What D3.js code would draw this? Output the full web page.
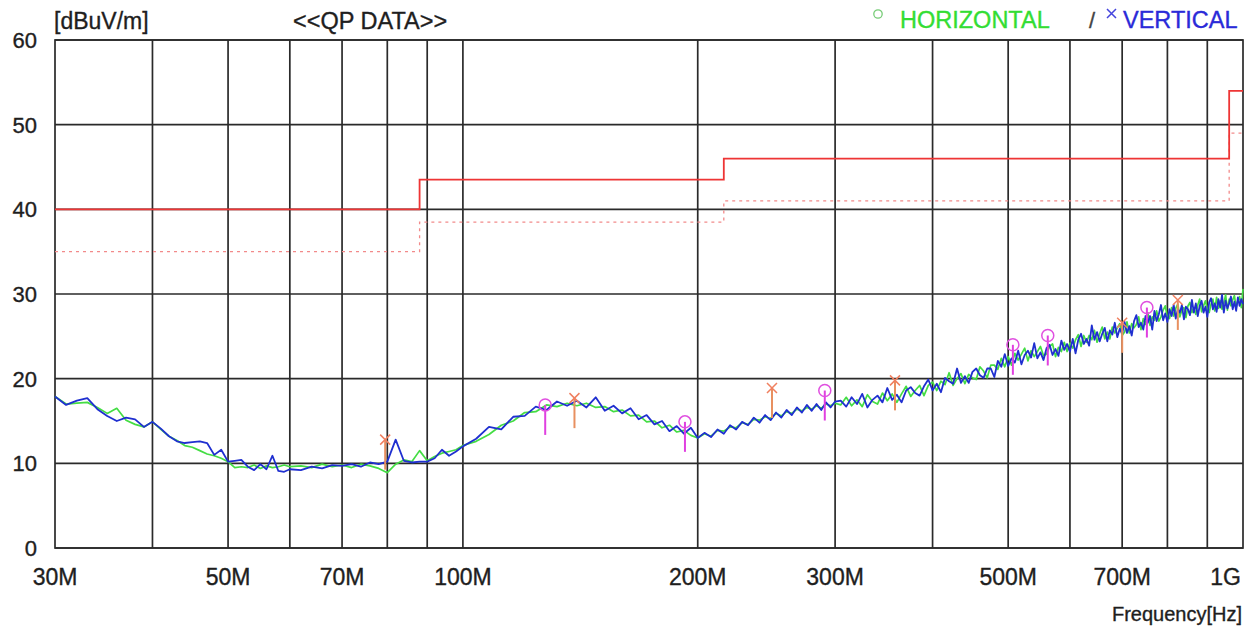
<!DOCTYPE html>
<html><head><meta charset="utf-8">
<script src="https://cdn.jsdelivr.net/npm/d3@7"></script>
<style>
html,body{margin:0;padding:0;background:#fff;}
svg{display:block;font-family:"Liberation Sans",Arial,sans-serif;}
</style></head>
<body><svg id="c" width="1255" height="632"></svg>
<script>
// ---- data ----
const freqs = [30,31,32,33,34,35,36,37,38,39,40,41,42,43,44,45,46,47,48,49,50,51,52,53,54,55,56,57,58,59,60,
62,64,66,68,70,72,74,76,78,80,82,84,86,88,90,92,94,96,98,100,
104,108,112,116,120,124,128,132,136,140,144,148,152,156,160,164,168,172,176,180,184,188,192,196,200,204,208,212,216,220,224,228,232,236,240,244,248,252,256,260,264,268,272,276,280,284,288,292,296,300,
305,310,315,320,325,330,335,340,345,350,355,360,365,370,375,380,385,390,395,400,
405,410,415,420,425,430,435,440,445,450,455,460,465,470,475,480,485,490,495,500,
505,510,515,520,525,530,535,540,545,550,555,560,565,570,575,580,585,590,595,600,
605,610,615,620,625,630,635,640,645,650,655,660,665,670,675,680,685,690,695,700,
705,710,715,720,725,730,735,740,745,750,755,760,765,770,775,780,785,790,795,800,
805,810,815,820,825,830,835,840,845,850,855,860,865,870,875,880,885,890,895,900,
905,910,915,920,925,930,935,940,945,950,955,960,965,970,975,980,985,990,995,1000];
const vertical = [17.9,16.9,17.4,17.7,16.4,15.6,15.0,15.4,15.2,14.3,14.9,14.1,13.2,12.6,12.4,12.5,12.6,12.4,11.0,11.6,10.2,10.3,10.4,9.6,9.2,9.9,9.3,10.9,9.1,9.0,9.3,
9.2,9.6,9.4,9.8,9.7,9.9,9.6,10.1,9.9,10.2,12.8,10.3,10.1,10.2,10.2,10.6,11.6,10.9,11.4,12.0,
12.9,14.3,14.0,15.5,15.6,16.7,16.3,17.3,16.8,17.4,16.6,17.8,16.2,16.8,15.9,16.5,15.2,15.7,14.6,15.0,13.8,14.4,13.5,14.2,13.0,13.6,13.1,14.0,13.5,14.5,14.0,14.9,14.5,15.4,14.8,15.7,15.1,16.0,15.4,16.3,15.7,16.6,16.0,16.9,16.2,17.0,16.3,17.2,16.6,17.3,
17.4,16.7,17.8,17.0,18.2,16.6,17.5,18.0,17.2,18.9,17.5,18.1,17.2,18.6,19.0,18.3,18.0,19.1,19.9,18.6,
19.4,18.4,20.1,19.7,19.4,21.2,19.5,20.3,19.5,20.8,21.2,20.4,20.1,21.2,21.2,20.2,22.1,21.4,22.9,21.5,
22.4,21.9,23.3,21.7,22.8,23.3,22.5,24.2,22.4,23.1,22.2,23.6,24.0,22.8,23.5,22.7,24.5,23.4,24.1,23.2,
24.7,23.0,24.6,25.3,24.1,24.7,23.9,26.3,24.6,25.5,24.4,25.3,26.0,24.4,25.7,25.2,26.6,24.9,25.9,25.3,
26.7,25.4,26.2,25.1,26.8,27.5,26.1,26.6,25.8,27.4,26.6,27.4,25.8,28.0,26.8,27.6,28.7,26.9,27.7,26.7,
28.2,27.4,28.7,27.1,28.2,27.8,28.7,27.0,28.5,28.2,27.5,29.3,27.8,28.9,27.4,28.6,29.2,27.8,28.5,27.3,
29.0,29.5,28.2,28.9,27.9,29.4,28.4,29.9,27.8,29.2,28.3,28.9,29.7,28.2,29.1,28.0,29.6,28.6,29.4,28.8];
const horizontal = [17.9,17.0,17.1,17.2,16.6,15.9,16.5,15.1,14.6,14.3,14.9,14.0,13.2,12.7,12.1,11.9,11.5,11.1,10.9,10.6,10.2,9.5,9.6,9.5,9.8,9.4,9.7,9.5,9.6,9.8,9.6,
9.7,9.5,9.9,9.6,9.8,9.5,9.9,9.7,9.4,8.9,9.9,10.4,10.2,11.5,10.3,10.8,11.2,11.4,11.6,12.1,
12.6,13.4,14.5,15.0,16.0,16.1,16.9,16.7,17.1,16.8,17.1,16.6,16.7,16.1,16.3,15.6,15.7,14.9,15.0,14.2,14.5,13.7,13.9,13.3,13.0,13.5,13.2,13.9,13.8,14.3,14.2,14.8,14.6,15.2,15.1,15.5,15.3,15.9,15.6,16.1,15.9,16.4,16.2,16.6,16.4,16.8,16.5,17.0,16.8,17.1,
16.9,17.8,16.8,17.5,16.7,18.1,17.3,17.0,18.3,17.4,18.2,17.2,18.2,19.1,17.9,18.6,19.2,18.0,19.2,19.6,
18.6,19.7,19.3,20.7,19.2,20.0,20.6,19.4,20.5,20.1,19.9,21.4,20.9,20.1,21.6,21.6,21.1,22.4,21.4,22.6,
21.6,23.0,22.2,22.9,23.6,22.1,23.3,22.6,23.2,23.8,22.7,22.9,23.8,24.1,22.6,23.7,23.2,24.3,23.2,24.2,
23.6,24.6,25.2,23.8,25.1,24.3,25.1,24.6,25.7,24.3,25.3,26.1,24.7,25.5,24.7,26.1,25.4,26.0,26.5,25.1,
25.5,26.7,25.4,26.5,26.0,26.4,27.3,25.8,27.1,26.4,27.8,26.3,27.3,26.9,28.0,26.8,27.3,28.1,28.6,27.2,
27.1,28.4,27.4,28.3,28.8,27.3,28.1,28.4,27.2,28.6,29.0,27.8,28.4,27.6,28.7,29.4,27.9,28.6,29.2,28.2,
27.8,28.8,29.4,28.0,29.6,28.3,29.2,28.2,28.9,29.9,28.1,29.4,28.6,29.3,29.8,28.4,29.2,29.7,28.4,30.6];
const hPeakFreqs = [127.5,192.6,291,507,562,753];
const hPeakValues = [16.9,14.9,18.6,24.0,25.1,28.4];
const vPeakFreqs = [79.5,139,249,358,700,825];
const vPeakValues = [12.8,17.7,18.9,19.8,26.6,29.3];
const limitEdges = [30,88,216,960,1000];
const limitValues = [40,43.5,46,54];
const marginValues = [35,38.5,41,49];
const gridFreqs = [40,50,60,70,80,90,100,200,300,400,500,600,700,800,900];
const xTickFreqs = [30,50,70,100,200,300,500,700,1000];
const xTickLabels = ["30M","50M","70M","100M","200M","300M","500M","700M","1G"];
const yTicks = [0,10,20,30,40,50,60];

// ---- layout ----
const L = 55, R = 1243, T = 40, B = 548;
const svg = d3.select("#c");
const x = d3.scaleLog().domain([30,1000]).range([L,R]);
const y = d3.scaleLinear().domain([0,60]).range([B,T]);
const gridColor = "#2a2a2a";
const textColor = "#1e1e1e";

// grid
const g = svg.append("g");
g.selectAll(".vg").data(gridFreqs).enter().append("line")
  .attr("x1",d=>x(d)).attr("x2",d=>x(d)).attr("y1",T).attr("y2",B)
  .attr("stroke",gridColor).attr("stroke-width",1.7);
g.selectAll(".hg").data(yTicks).enter().append("line")
  .attr("x1",L).attr("x2",R).attr("y1",d=>y(d)).attr("y2",d=>y(d))
  .attr("stroke",gridColor).attr("stroke-width",1.7);
g.append("rect").attr("x",L).attr("y",T).attr("width",R-L).attr("height",B-T)
  .attr("fill","none").attr("stroke",gridColor).attr("stroke-width",1.7);

// limit lines (step)
function stepPts(vals){
  const pts=[];
  vals.forEach((v,i)=>{pts.push([limitEdges[i],v]);pts.push([limitEdges[i+1],v]);});
  return pts;
}
const line = d3.line().x(d=>x(d[0])).y(d=>y(d[1]));
svg.append("path").attr("d",line(stepPts(marginValues))).attr("fill","none")
  .attr("stroke","#f28a8a").attr("stroke-width",1.3).attr("stroke-dasharray","3,4");
svg.append("path").attr("d",line(stepPts(limitValues))).attr("fill","none")
  .attr("stroke","#ee3535").attr("stroke-width",1.8);

// traces
const tr = d3.line().x((d,i)=>x(freqs[i])).y(d=>y(d));
svg.append("path").attr("d",tr(horizontal)).attr("fill","none")
  .attr("stroke","#44dd44").attr("stroke-width",1.7).attr("stroke-linejoin","round");
svg.append("path").attr("d",tr(vertical)).attr("fill","none")
  .attr("stroke","#1f2fd0").attr("stroke-width",1.8).attr("stroke-linejoin","round");

// peak markers
const stem = 30;
const hp = svg.append("g");
hPeakFreqs.forEach((f,i)=>{
  const cx=x(f), cy=y(hPeakValues[i]);
  hp.append("line").attr("x1",cx).attr("x2",cx).attr("y1",cy).attr("y2",cy+stem)
    .attr("stroke","#e040e0").attr("stroke-width",2);
  hp.append("circle").attr("cx",cx).attr("cy",cy).attr("r",6)
    .attr("fill","none").attr("stroke","#e050e0").attr("stroke-width",1.5);
});
const vp = svg.append("g");
vPeakFreqs.forEach((f,i)=>{
  const cx=x(f), cy=y(vPeakValues[i]);
  vp.append("line").attr("x1",cx).attr("x2",cx).attr("y1",cy).attr("y2",cy+stem)
    .attr("stroke","#e89060").attr("stroke-width",2);
  vp.append("path").attr("d",`M${cx-5},${cy-5}L${cx+5},${cy+5}M${cx+5},${cy-5}L${cx-5},${cy+5}`)
    .attr("stroke","#f08060").attr("stroke-width",1.5);
});

// axis labels
function txt(sel, color){ return sel.attr("fill",color).attr("stroke",color).attr("stroke-width",0.35); }
txt(svg.selectAll(".yl").data(yTicks).enter().append("text")
  .attr("x",37).attr("y",d=>y(d)+8).attr("text-anchor","end")
  .attr("font-size",22).text(d=>d), textColor);
txt(svg.selectAll(".xl").data(xTickFreqs).enter().append("text")
  .attr("x",(d,i)=> i===xTickFreqs.length-1 ? R-2 : x(d))
  .attr("y",585).attr("text-anchor",(d,i)=> i===xTickFreqs.length-1 ? "end":"middle")
  .attr("font-size",23).text((d,i)=>xTickLabels[i]), textColor);
txt(svg.append("text").attr("x",R-1).attr("y",621).attr("text-anchor","end")
  .attr("font-size",20).text("Frequency[Hz]"), textColor);
txt(svg.append("text").attr("x",54).attr("y",29).attr("font-size",23).text("[dBuV/m]"), textColor);
txt(svg.append("text").attr("x",293).attr("y",29).attr("font-size",23.5).text("<<QP DATA>>"), textColor);

// legend
svg.append("circle").attr("cx",878).attr("cy",14).attr("r",4.2).attr("fill","none")
  .attr("stroke","#77cc77").attr("stroke-width",1.3);
txt(svg.append("text").attr("x",900).attr("y",28).attr("font-size",23.5).text("HORIZONTAL"), "#33dd33");
txt(svg.append("text").attr("x",1089).attr("y",28).attr("font-size",22).text("/"), "#444");
svg.append("path").attr("d","M1107,9L1116,18M1116,9L1107,18").attr("stroke","#4444dd").attr("stroke-width",1.5);
txt(svg.append("text").attr("x",1123).attr("y",28).attr("font-size",23.5).text("VERTICAL"), "#2a2ad8");
</script></body></html>
